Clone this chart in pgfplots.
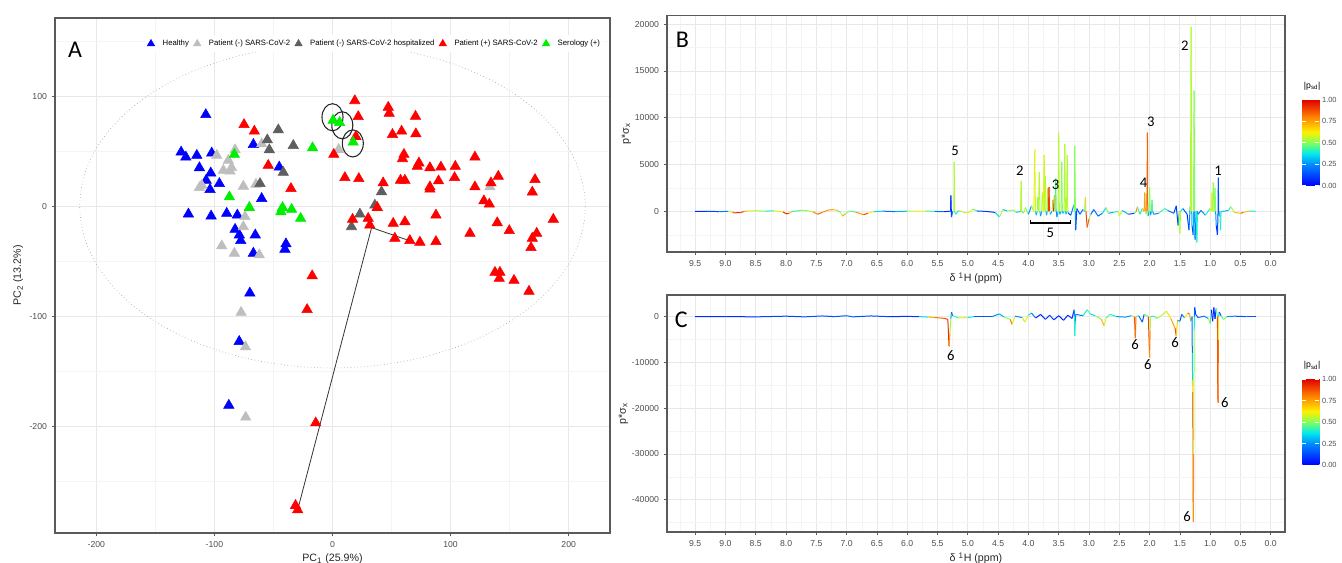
\documentclass[border=0pt]{standalone}
\usepackage{pgfplots}
\pgfplotsset{compat=1.18}
\usepackage{fontspec}
\setmainfont{Liberation Sans}
\newfontfamily\carlito{Carlito}

\definecolor{gray30}{RGB}{77,77,77}
\definecolor{gridmaj}{RGB}{232,232,232}
\definecolor{gridmin}{RGB}{244,244,244}
\definecolor{frame}{RGB}{90,90,90}
\definecolor{cblue}{RGB}{0,0,255}
\definecolor{clgray}{RGB}{190,190,190}
\definecolor{cdgray}{RGB}{95,95,95}
\definecolor{cred}{RGB}{255,0,0}
\definecolor{cgreen}{RGB}{0,238,0}

\pgfplotsset{
  colormap={psd}{rgb255(0cm)=(0,0,255); rgb255(1cm)=(0,140,255); rgb255(1.5cm)=(0,235,235);
    rgb255(2cm)=(130,255,90); rgb255(2.5cm)=(255,240,0); rgb255(3.2cm)=(255,130,0); rgb255(4cm)=(225,0,0)},
  ggbox/.style={
    scale only axis,
    axis line style={draw=frame, line width=0.9pt},
    grid=both, major grid style={gridmaj, line width=0.6pt},
    minor grid style={gridmin, line width=0.4pt},
    tick align=outside, major tick length=2.5pt, minor tick length=0pt,
    tick style={frame, line width=0.5pt},
    xtick pos=left, ytick pos=left,
    tick label style={font=\fontsize{6.5}{7}\selectfont, text=gray30},
    /pgf/number format/assume math mode=true,
    label style={font=\fontsize{8}{9}\selectfont, text=black!85},
  },
  cbar/.style={
    colormap name=psd, point meta min=0, point meta max=1,
    colorbar,
    colorbar style={
      at={(parent axis.north east)}, anchor=north west, xshift=4.5pt, yshift=-63pt,
      scale only axis, width=12.75pt, height=64.5pt,
      axis line style={draw=none},
      ytick={0,0.25,0.5,0.75,1}, yticklabels={0.00,0.25,0.50,0.75,1.00},
      yticklabel style={font=\fontsize{5.6}{6}\selectfont, text=gray30, xshift=-1.5pt},
      tick align=inside, major tick length=3pt, tick style={draw=white, line width=0.6pt},
      title={\textbar p\textsubscript{sd}\textbar},
      title style={at={(0,1)}, anchor=south west, font=\fontsize{6.5}{7}\selectfont, inner sep=1pt, yshift=0pt},
    },
  },
  spec/.style={
    ggbox, cbar, xmin=-9.965, xmax=0.235,
    xtick={-9.5,-9,...,0}, minor xtick={-9.75,-9.25,...,-0.25},
    xticklabels={9.5,9.0,8.5,8.0,7.5,7.0,6.5,6.0,5.5,5.0,4.5,4.0,3.5,3.0,2.5,2.0,1.5,1.0,0.5,0.0},
    scaled y ticks=false,
    yticklabel style={/pgf/number format/.cd, fixed, set thousands separator={}},
    xlabel={δ \textsuperscript{1}H (ppm)}, ylabel={p*σ\textsubscript{x}},
    xlabel style={yshift=2pt}, ylabel style={yshift=-4pt},
  },
}

\begin{document}
\begin{tikzpicture}[x=1pt,y=1pt]
\useasboundingbox (0,0) rectangle (1006.5,422.25);

% ---------------- A: PCA scores ----------------
\begin{axis}[ggbox, anchor=south west, at={(41.25pt,22.5pt)}, width=416.25pt, height=386.25pt,
  xmin=-235, xmax=235, ymin=-297, ymax=171,
  xtick={-200,-100,0,100,200}, minor xtick={-150,-50,50,150},
  ytick={-200,-100,0,100}, minor ytick={-250,-150,-50,50,150},
  xlabel={PC\textsubscript{1} (25.9\%)}, ylabel={PC\textsubscript{2} (13.2\%)},
  xlabel style={yshift=2pt}, ylabel style={yshift=-2pt},
  legend columns=5,
  legend style={at={(0.991,0.967)}, anchor=north east, draw=none, fill=white,
    font=\fontsize{5.8}{6.5}\selectfont, inner sep=1.5pt,
    /tikz/every even column/.append style={column sep=1.5pt},
    /tikz/every odd column/.append style={column sep=4pt}},
  legend image post style={mark size=3.2pt},
  legend image code/.code={\draw[mark repeat=2,mark phase=2] plot coordinates {(0cm,0cm) (0.2cm,0cm)};},
  every axis plot/.append style={only marks, mark=triangle*, mark size=4.5pt},
]
\draw[dotted, gray!70, line width=0.5pt] (axis cs:0,0) ellipse [x radius=214, y radius=147];

\addplot[cblue, mark options={draw=cblue, fill=cblue}] coordinates {
(-107.3,83.1) (-128.2,49.1) (-124.2,44.6) (-114.9,46.1) (-102.3,48.2) (-67.0,56.0)
(-112.7,34.9) (-103.1,30.1) (-107.0,23.5) (-95.8,20.5) (-103.7,15.1) (-45.1,35.5)
(-60.0,6.9) (-122.0,-7.2) (-102.8,-9.0) (-89.6,-6.6) (-80.6,-8.1) (-82.5,-21.1)
(-78.9,-26.2) (-77.7,-31.3) (-65.4,-26.2) (-39.4,-34.3) (-40.3,-39.2) (-67.0,-42.8)
(-70.0,-79.0) (-79.0,-123.0) (-87.8,-181.0)};
\addlegendentry{Healthy}
\addplot[clgray, mark options={draw=clgray, fill=clgray}] coordinates {
(-98.0,46.1) (-82.5,51.2) (-88.2,41.6) (-92.4,32.5) (-86.8,31.9) (-85.5,35.0)
(-110.7,19.0) (-112.7,16.9) (-75.5,18.1) (-64.8,19.9) (-60.0,56.6) (-74.1,-9.6)
(-75.5,-18.7) (-93.8,-36.1) (-83.1,-42.8) (-62.0,-44.3) (5.2,51.5) (-77.4,-96.6)
(-73.7,-127.9) (-73.5,-191.8) (133.3,17.5)};
\addlegendentry{Patient (-) SARS-CoV-2}
\addplot[cdgray, mark options={draw=cdgray, fill=cdgray}] coordinates {
(-45.9,69.3) (-55.2,60.2) (-53.5,51.2) (-33.2,55.1) (-41.7,30.7) (-61.4,20.5)
(41.5,13.0) (35.9,0.9) (23.2,-7.2) (16.1,-18.7)};
\addlegendentry{Patient (-) SARS-CoV-2 hospitalized}
\addplot[cred, mark options={draw=cred, fill=cred}] coordinates {
(18.9,95.8) (21.8,81.3) (19.8,63.3) (47.2,89.8) (48.0,84.3) (70.3,81.6) (58.5,68.1)
(50.8,65.1) (70.6,65.7) (1.1,47.0) (60.5,47.0) (59.3,43.1) (73.2,39.2) (71.8,36.1)
(82.5,34.9) (91.8,35.5) (104.0,36.1) (120.6,44.6) (10.5,25.9) (22.3,25.0) (42.9,21.1)
(57.6,23.5) (61.3,23.5) (89.8,22.9) (82.5,17.5) (82.5,15.4) (103.4,25.9) (120.6,17.5)
(134.2,21.1) (140.4,27.1) (171.5,24.1) (169.2,12.7) (128.2,4.8) (132.8,1.8) (37.9,-1.2)
(87.6,-8.1) (30.2,-11.1) (17.0,-12.0) (31.6,-17.2) (51.4,-15.7) (61.3,-14.2) (187.0,-12.0)
(139.5,-15.1) (149.7,-22.3) (116.4,-24.7) (172.9,-24.7) (169.2,-29.2) (52.8,-29.2)
(65.5,-31.3) (74.0,-32.8) (87.6,-32.2) (168.1,-37.7) (137.6,-60.2) (141.8,-60.2)
(141.2,-65.7) (153.7,-67.5) (166.4,-77.4) (-74.9,74.1) (-66.2,68.1) (-54.4,37.0)
(-35.2,16.0) (-17.2,-63.3) (-21.5,-94.0) (-14.2,-197.0) (-31.3,-272.0) (-29.5,-276.0)};
\addlegendentry{Patient (+) SARS-CoV-2}
\addplot[cgreen, mark options={draw=cgreen, fill=cgreen}] coordinates {
(-83.1,47.0) (-87.3,8.4) (-70.4,-1.2) (-42.3,-1.2) (-43.7,-5.1) (-34.6,-3.0)
(-27.0,-11.1) (-16.9,53.0) (0.5,78.0) (6.0,76.0) (17.5,58.1)};
\addlegendentry{Serology (+)}

\addplot[forget plot, black!80, sharp plot, no marks, line width=0.6pt] coordinates {
(-29.5,-276) (33.1,-19.5) (65.0,-31.3)};
\draw[black!85, line width=0.8pt] (axis cs:0,80.8) ellipse [x radius=8.9, y radius=12.3];
\draw[black!85, line width=0.8pt] (axis cs:8.3,73.5) ellipse [x radius=8.9, y radius=12.3];
\draw[black!85, line width=0.8pt] (axis cs:17.2,57) ellipse [x radius=8.9, y radius=12.3];
\node[font=\carlito\fontsize{18}{18}\selectfont] at (axis cs:-218,142) {A};
\end{axis}

% ---------------- B ----------------
\begin{axis}[spec, anchor=south west, at={(500.25pt,233.25pt)}, width=463.5pt, height=177.2pt,
  ymin=-4330, ymax=20890,
  ytick={0,5000,10000,15000,20000}, minor ytick={-2500,2500,7500,12500,17500}]
\addplot[mesh, point meta=explicit, line width=0.75pt] table[x expr=-\thisrowno{0}, y index=1, meta index=2] {
9.50 0 0.05
9.30 20 0.1
9.10 -20 0.15
8.95 10 0.3
8.88 -100 0.9
8.85 -150 0.9
8.75 -120 0.95
8.70 -20 0.9
8.65 50 0.6
8.50 80 0.55
8.35 30 0.5
8.20 60 0.3
8.05 -50 0.9
8.00 -250 0.95
7.95 -200 0.9
7.90 0 0.5
7.85 30 0.3
7.75 120 0.6
7.65 80 0.4
7.55 -60 0.7
7.48 -300 0.9
7.40 -100 0.8
7.30 150 0.75
7.22 200 0.8
7.15 100 0.6
7.10 -100 0.3
7.07 -500 0.8
7.02 -250 0.7
6.95 50 0.3
6.85 -80 0.6
6.72 -350 0.95
6.65 -200 0.85
6.55 -20 0.4
6.40 30 0.3
6.20 -20 0.1
6.00 30 0.5
5.90 20 0.6
5.70 40 0.6
5.55 0 0.3
5.40 -30 0.1
5.30 20 0.05
5.285 0 0.1
5.28 1700 0.1
5.27 -600 0.05
5.25 0 0.3
5.23 0 0.55
5.225 5300 0.55
5.22 0 0.55
5.20 -300 0.3
5.15 100 0.5
5.05 -150 0.6
4.97 -100 0.55
4.92 250 0.7
4.85 50 0.2
4.70 0 0.05
4.55 -100 0.1
4.48 -600 0.6
4.42 200 0.45
4.35 50 0.2
4.25 150 0.85
4.20 -100 0.1
4.13 0 0.55
4.12 3250 0.55
4.11 0 0.55
4.08 -200 0.3
4.05 400 0.85
4.00 -300 0.1
3.95 600 0.4
3.91 0 0.6
3.895 6600 0.6
3.885 0 0.6
3.87 -400 0.1
3.855 0 0.5
3.85 1500 0.5
3.835 0 0.55
3.82 4200 0.55
3.81 0 0.55
3.80 -500 0.05
3.78 0 0.5
3.77 2000 0.5
3.755 0 0.6
3.74 6000 0.6
3.73 0 0.55
3.72 3800 0.55
3.71 0 0.55
3.70 -400 0.05
3.69 0 0.5
3.68 2500 0.5
3.67 0 0.9
3.66 2600 0.9
3.65 0 0.9
3.64 -300 0.05
3.61 0 0.5
3.60 1200 0.5
3.585 0 0.95
3.57 1700 0.95
3.56 0 0.45
3.55 3500 0.45
3.54 0 0.45
3.53 -600 0.05
3.51 0 0.55
3.50 8400 0.55
3.49 0 0.55
3.48 -300 0.1
3.46 0 0.5
3.45 5300 0.5
3.44 0 0.5
3.43 -200 0.1
3.41 0 0.55
3.40 7200 0.55
3.39 0 0.55
3.38 -300 0.1
3.37 0 0.55
3.36 6000 0.55
3.35 0 0.55
3.34 -200 0.1
3.30 -400 0.05
3.25 700 0.4
3.24 0 0.5
3.235 7000 0.5
3.225 0 0.5
3.22 -2000 0.05
3.20 300 0.2
3.15 -300 0.1
3.10 200 0.3
3.07 0 0.45
3.06 1500 0.45
3.05 0 0.9
3.03 -1700 0.9
3.00 -800 0.8
2.97 -300 0.2
2.92 200 0.1
2.85 -500 0.3
2.78 -200 0.1
2.72 400 0.6
2.68 -200 0.4
2.60 -100 0.2
2.52 0 0.6
2.50 -500 0.6
2.45 100 0.5
2.35 -300 0.1
2.25 -200 0.1
2.22 0 0.8
2.20 500 0.8
2.16 -300 0.1
2.12 300 0.7
2.09 0 0.75
2.08 2000 0.75
2.07 0 0.75
2.055 -300 0.2
2.045 0 0.85
2.035 8400 0.85
2.03 0 0.85
2.025 -500 0.1
2.01 0 0.5
2.00 2600 0.5
1.99 0 0.5
1.985 -400 0.05
1.97 0 0.45
1.96 1200 0.45
1.95 0 0.45
1.93 -300 0.05
1.85 -200 0.4
1.75 300 0.5
1.70 100 0.3
1.60 -200 0.1
1.56 600 0.15
1.53 -1500 0.05
1.51 0 0.55
1.50 -2400 0.55
1.49 0 0.55
1.45 300 0.2
1.38 -300 0.1
1.35 -2000 0.05
1.33 500 0.4
1.325 0 0.55
1.315 19700 0.55
1.305 0 0.55
1.30 -1500 0.05
1.28 -2500 0.1
1.275 0 0.5
1.265 12900 0.5
1.258 0 0.5
1.25 -3000 0.05
1.23 0 0.4
1.22 -3300 0.4
1.21 0 0.4
1.20 -300 0.1
1.15 100 0.3
1.08 -400 0.2
1.00 300 0.6
0.98 0 0.6
0.97 2000 0.6
0.96 0 0.55
0.95 3100 0.55
0.935 0 0.5
0.92 2500 0.5
0.91 0 0.5
0.90 -1500 0.05
0.88 -2500 0.1
0.87 0 0.15
0.865 3600 0.15
0.86 0 0.15
0.85 -500 0.1
0.84 0 0.4
0.83 -2000 0.4
0.82 0 0.4
0.80 0 0.3
0.70 100 0.3
0.66 500 0.5
0.60 -100 0.6
0.50 -200 0.8
0.45 -100 0.9
0.35 50 0.5
0.25 0 0.3
};
\node[font=\carlito\fontsize{18}{18}\selectfont] at (axis cs:-9.71,18300) {B};
\begin{scope}[font=\carlito\fontsize{11}{11}\selectfont]
\node at (axis cs:-5.21,6500) {5};
\node at (axis cs:-4.14,4370) {2};
\node at (axis cs:-3.55,2840) {3};
\node at (axis cs:-3.64,-2240) {5};
\node at (axis cs:-2.10,3020) {4};
\node at (axis cs:-1.98,9590) {3};
\node at (axis cs:-1.42,17690) {2};
\node at (axis cs:-0.87,4370) {1};
\end{scope}
\draw[line width=0.9pt] (axis cs:-3.96,-890) -- (axis cs:-3.96,-1240) -- (axis cs:-3.31,-1240) -- (axis cs:-3.31,-890);
\end{axis}

% ---------------- C ----------------
\begin{axis}[spec, anchor=south west, at={(500.25pt,23.25pt)}, width=463.5pt, height=177.75pt,
  ymin=-47050, ymax=4730,
  ytick={-40000,-30000,-20000,-10000,0}, minor ytick={-45000,-35000,-25000,-15000,-5000}]
\addplot[mesh, point meta=explicit, line width=0.75pt] table[x expr=-\thisrowno{0}, y index=1, meta index=2] {
9.50 0 0.1
9.00 20 0.05
8.50 -50 0.1
8.00 100 0.15
7.70 -50 0.1
7.40 150 0.2
7.20 0 0.05
7.00 200 0.25
6.90 -50 0.1
6.60 150 0.2
6.30 0 0.05
6.00 50 0.1
5.80 0 0.1
5.65 -100 0.6
5.55 -200 0.85
5.45 -300 0.8
5.38 -400 0.9
5.33 -600 0.9
5.31 -6500 0.95
5.295 -3500 0.6
5.28 -500 0.45
5.27 1000 0.1
5.25 200 0.3
5.15 -300 0.6
5.00 -200 0.55
4.90 0 0.2
4.60 0 0.1
4.48 600 0.4
4.40 -100 0.2
4.30 -600 0.8
4.27 -1700 0.85
4.22 100 0.3
4.10 -200 0.2
4.06 -1200 0.9
4.00 300 0.3
3.95 800 0.4
3.88 -300 0.05
3.80 500 0.1
3.72 -600 0.05
3.65 300 0.2
3.58 -700 0.05
3.50 200 0.1
3.42 -800 0.05
3.35 300 0.1
3.28 -400 0.05
3.245 1500 0.1
3.24 0 0.4
3.235 -4200 0.4
3.225 -1000 0.4
3.22 500 0.1
3.10 200 0.3
3.03 1500 0.5
2.98 600 0.4
2.90 200 0.3
2.80 -500 0.7
2.75 -2000 0.75
2.72 -300 0.4
2.65 500 0.5
2.55 0 0.3
2.40 -100 0.2
2.30 200 0.3
2.25 0 0.8
2.235 -4700 0.95
2.225 0 0.7
2.18 200 0.2
2.12 -1200 0.2
2.09 500 0.1
2.02 0 0.85
2.00 -8900 0.95
1.99 -3000 0.6
1.985 0 0.5
1.93 100 0.3
1.88 -400 0.6
1.80 300 0.5
1.72 1200 0.6
1.65 -400 0.7
1.58 -2500 0.8
1.56 -4300 0.95
1.54 -800 0.4
1.50 -1000 0.2
1.47 500 0.1
1.42 -300 0.4
1.37 800 0.8
1.34 500 0.9
1.32 -1000 0.6
1.30 0 0.1
1.295 -8000 0.3
1.29 -14000 0.4
1.285 -16500 0.95
1.282 -33000 0.9
1.278 -44800 0.95
1.272 -30000 0.6
1.268 -15000 0.55
1.264 -3000 0.5
1.26 0 0.3
1.255 2000 0.1
1.24 500 0.1
1.20 -200 0.2
1.10 100 0.2
1.03 -400 0.3
1.00 -1500 0.8
0.98 1500 0.05
0.96 -1000 0.05
0.94 2000 0.1
0.92 -500 0.1
0.90 1800 0.1
0.88 0 0.85
0.875 -15000 0.9
0.87 -18800 0.95
0.865 -5000 0.7
0.86 0 0.5
0.85 1000 0.1
0.82 200 0.2
0.78 -600 0.7
0.72 0 0.3
0.60 100 0.2
0.40 0 0.1
0.25 0 0.2
};
\node[font=\carlito\fontsize{18}{18}\selectfont] at (axis cs:-9.73,-730) {C};
\begin{scope}[font=\carlito\fontsize{11}{11}\selectfont]
\node at (axis cs:-5.28,-8500) {6};
\node at (axis cs:-2.24,-6180) {6};
\node at (axis cs:-2.03,-10540) {6};
\node at (axis cs:-1.58,-5600) {6};
\node at (axis cs:-0.76,-18760) {6};
\node at (axis cs:-1.38,-43770) {6};
\end{scope}
\end{axis}
\end{tikzpicture}
\end{document}
